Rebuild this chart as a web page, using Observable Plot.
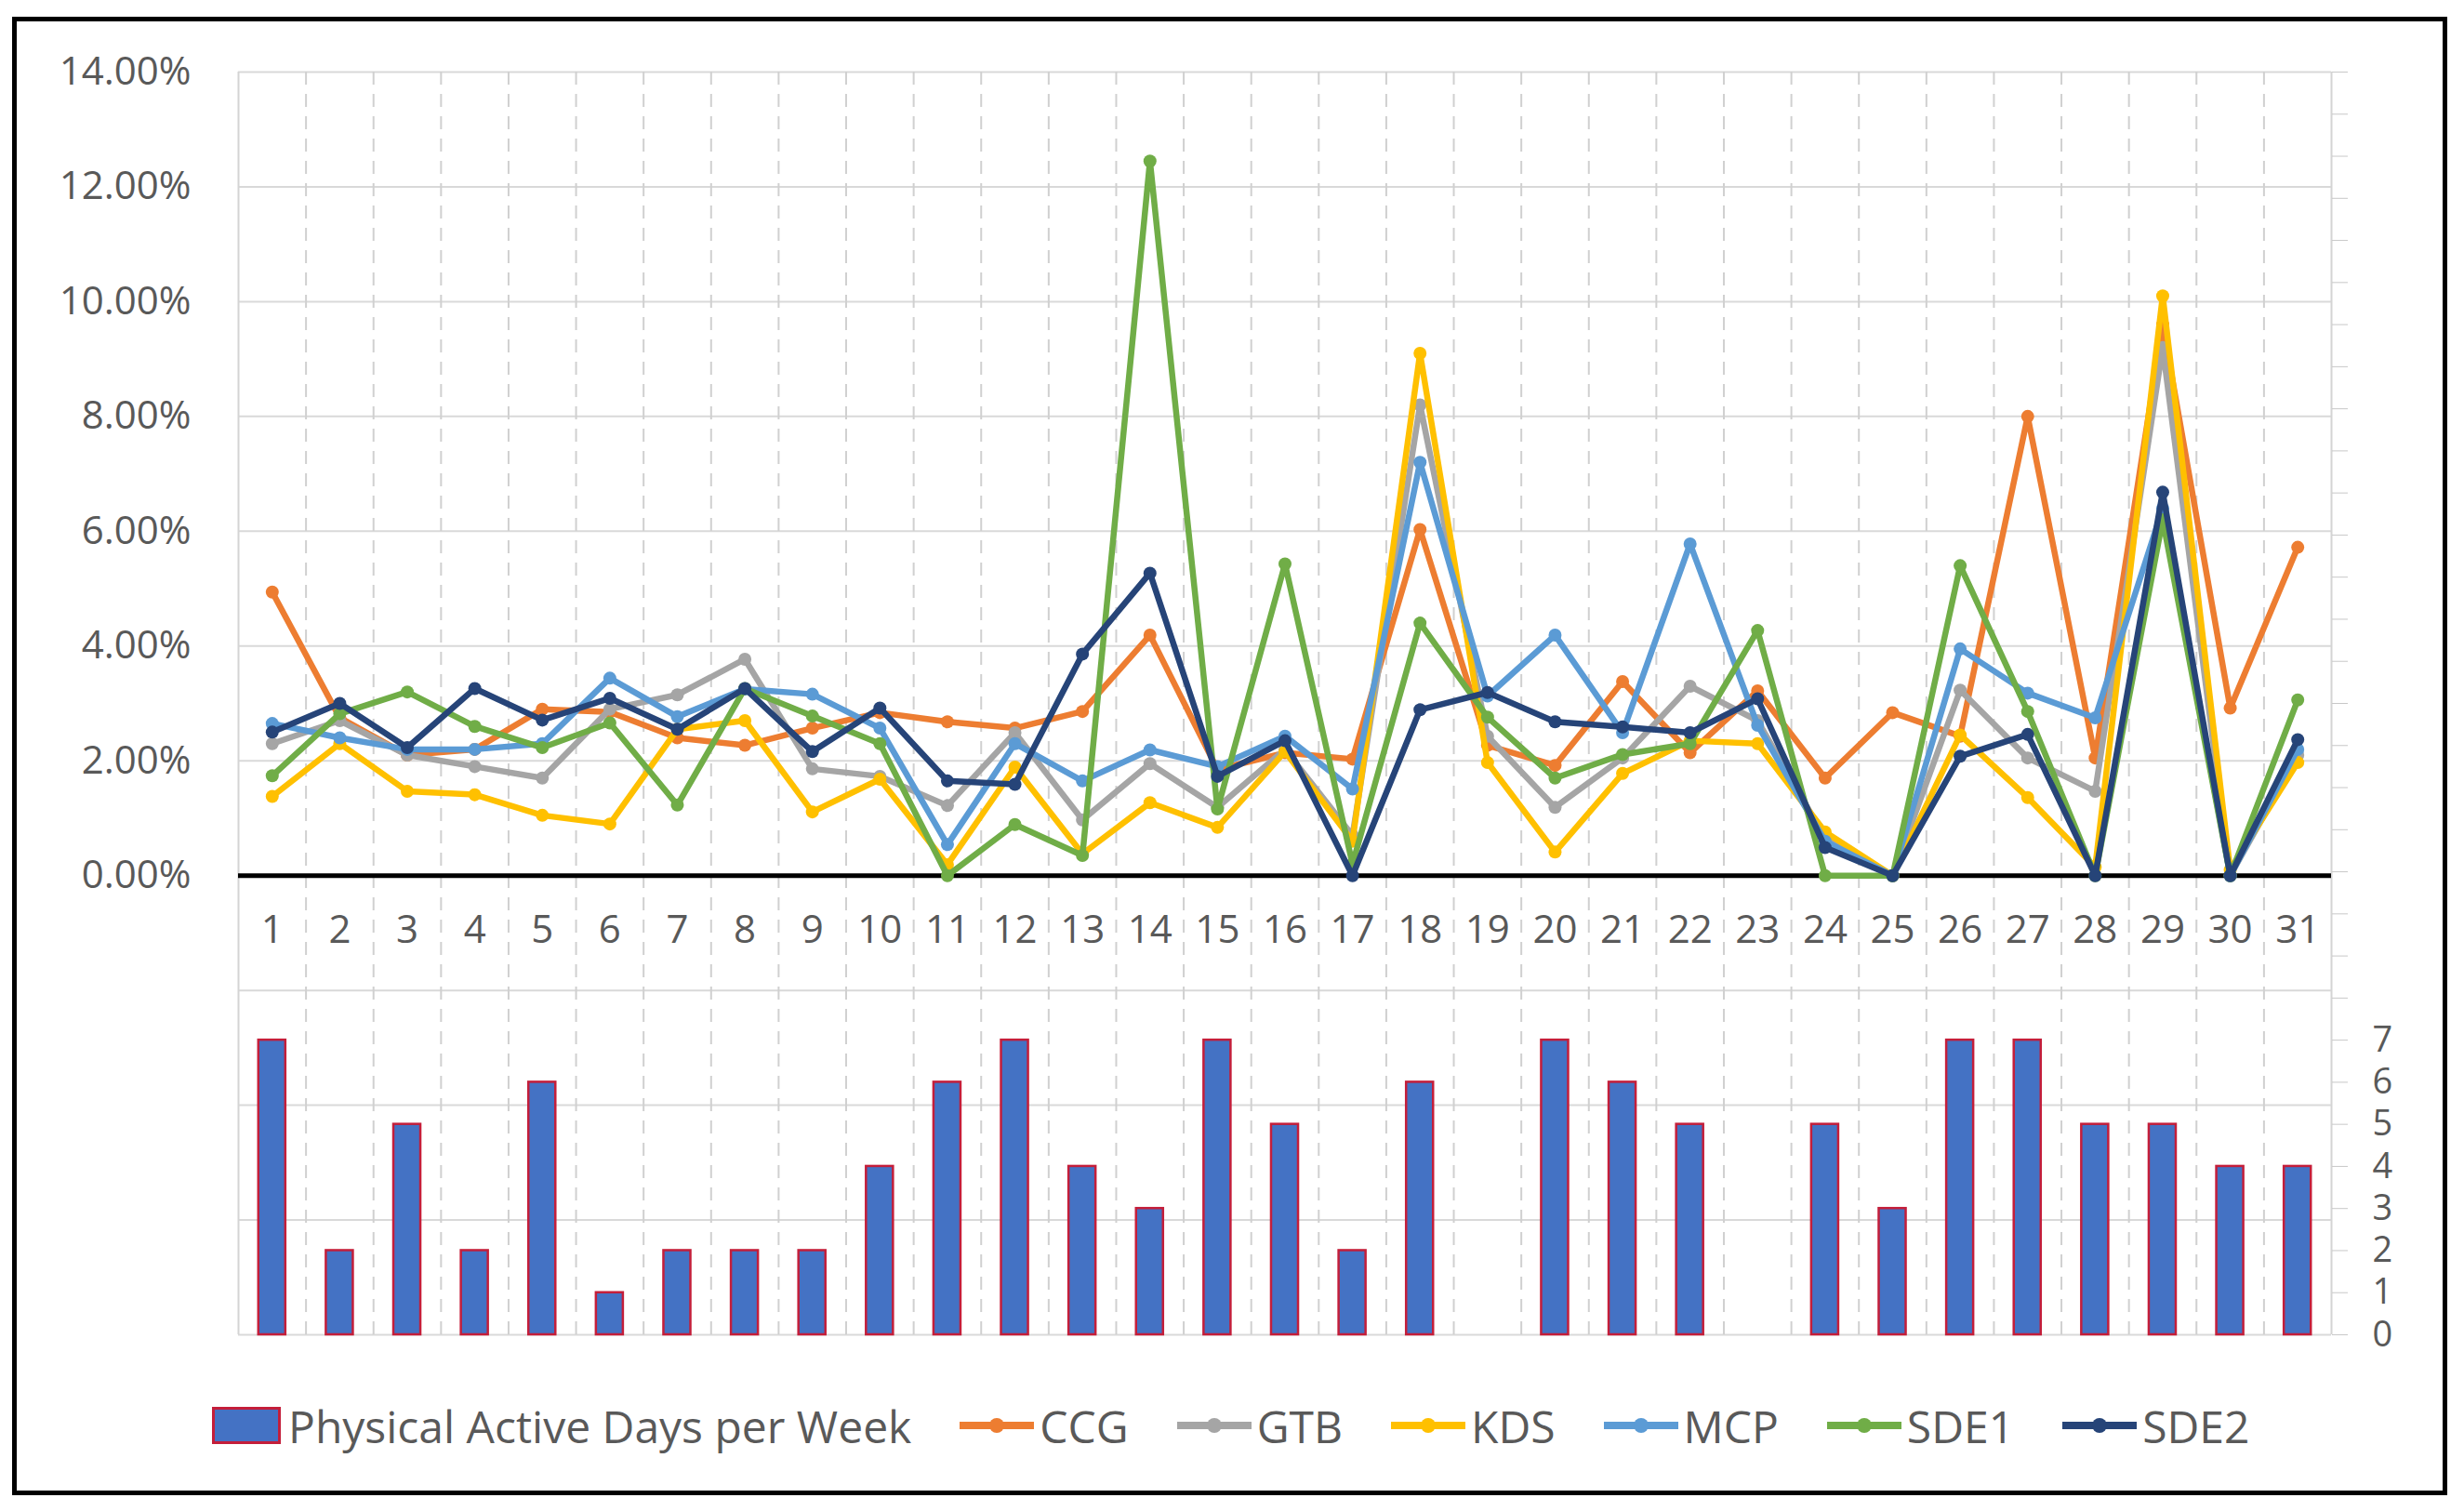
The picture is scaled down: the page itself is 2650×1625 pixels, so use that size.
<!DOCTYPE html>
<html>
<head>
<meta charset="utf-8">
<script src="https://cdn.jsdelivr.net/npm/d3@7"></script>
<script src="https://cdn.jsdelivr.net/npm/@observablehq/plot@0.6"></script>
<style>
  html, body { margin: 0; padding: 0; background: #fff; }
  #page { position: relative; width: 2650px; height: 1625px; overflow: hidden; font-family: "Open Sans", sans-serif; }
  #chart { position: absolute; left: 0; top: 0; }
  #frame { position: absolute; left: 13px; top: 18px; width: 2619px; height: 1590px; border: 5px solid #000; box-sizing: border-box; pointer-events: none; }
  #legend { position: absolute; left: 228px; top: 1503px; height: 60px; display: flex; align-items: center; font-size: 48px; color: #595959; white-space: nowrap; }
  #legend .item { display: flex; align-items: center; margin-left: 52px; }
  #legend .item:first-child { margin-left: 0; }
  #legend .box { width: 68px; height: 34px; background: #4472C4; border: 3px solid #C41E3A; margin-right: 8px; }
  #legend svg { margin-right: 6px; }
</style>
</head>
<body>
<div id="page">
  <div id="chart"></div>
  <div id="legend"></div>
  <div id="frame"></div>
</div>
<script>
// ---- data ----
const days = d3.range(1, 32);
const activeDays = [7, 2, 5, 2, 6, 1, 2, 2, 2, 4, 6, 7, 4, 3, 7, 5, 2, 6, 0, 7, 6, 5, 0, 5, 3, 7, 7, 5, 5, 4, 4];
const seriesNames = ["CCG", "GTB", "KDS", "MCP", "SDE1", "SDE2"];
const CCG  = [4.94, 2.75, 2.1, 2.2, 2.9, 2.85, 2.4, 2.27, 2.57, 2.84, 2.68, 2.57, 2.86, 4.19, 1.85, 2.14, 2.03, 6.03, 2.27, 1.92, 3.38, 2.14, 3.22, 1.7, 2.84, 2.43, 8.0, 2.05, 9.6, 2.92, 5.72];
const GTB  = [2.3, 2.7, 2.1, 1.9, 1.7, 2.9, 3.15, 3.77, 1.86, 1.73, 1.22, 2.49, 0.97, 1.95, 1.19, 2.2, 0.7, 8.2, 2.43, 1.19, 2.05, 3.3, 2.7, 0.65, 0, 3.23, 2.05, 1.47, 9.2, 0, 2.1];
const KDS  = [1.38, 2.3, 1.47, 1.41, 1.05, 0.9, 2.55, 2.7, 1.11, 1.68, 0.19, 1.89, 0.38, 1.27, 0.84, 2.16, 0.6, 9.1, 1.97, 0.41, 1.78, 2.35, 2.3, 0.76, 0, 2.45, 1.36, 0.15, 10.1, 0.1, 1.97];
const MCP  = [2.65, 2.4, 2.2, 2.2, 2.3, 3.44, 2.77, 3.25, 3.16, 2.57, 0.54, 2.3, 1.65, 2.19, 1.9, 2.43, 1.51, 7.2, 3.13, 4.19, 2.49, 5.78, 2.62, 0.6, 0, 3.95, 3.18, 2.75, 6.4, 0, 2.2];
const SDE1 = [1.74, 2.82, 3.2, 2.6, 2.23, 2.66, 1.23, 3.26, 2.78, 2.3, 0, 0.89, 0.35, 12.45, 1.16, 5.43, 0.2, 4.4, 2.76, 1.7, 2.11, 2.3, 4.27, 0, 0, 5.4, 2.86, 0, 6.2, 0, 3.06];
const SDE2 = [2.5, 3.0, 2.23, 3.26, 2.71, 3.09, 2.55, 3.26, 2.16, 2.92, 1.65, 1.59, 3.86, 5.27, 1.73, 2.35, 0, 2.89, 3.19, 2.68, 2.59, 2.49, 3.08, 0.49, 0, 2.08, 2.46, 0, 6.68, 0, 2.37];
const seriesValues = [CCG, GTB, KDS, MCP, SDE1, SDE2];
const pctTicks = [0, 2, 4, 6, 8, 10, 12, 14];
const dayTicks = d3.range(0, 31);      // secondary axis tick marks (0..30)
const dayLabels = d3.range(0, 8);      // secondary axis labels (0..7)
const barLegendLabel = "Physical Active Days per Week";

// ---- styles ----
const seriesColors = ["#ED7D31", "#A5A5A5", "#FFC000", "#5B9BD5", "#70AD47", "#264478"];
const BAR_HALF = 0.2;
const X_LABEL_Y = -0.95;

// secondary axis (days) mapped onto the primary percent scale
const sec = d3.scaleLinear([0, 30], [-8, 14]);

const rows = seriesNames.flatMap((s, i) => seriesValues[i].map((v, j) => ({series: s, day: days[j], value: v})));
const bars = days.map((d, i) => ({day: d, n: activeDays[i]})).filter(d => d.n > 0);

const chart = Plot.plot({
  width: 2650,
  height: 1480,
  marginLeft: 256,
  marginRight: 143,
  marginTop: 77,
  marginBottom: 45,
  style: {fontFamily: '"Open Sans", sans-serif', fontSize: "42px", color: "#595959", background: "transparent", overflow: "visible"},
  x: {domain: [0.5, 31.5], axis: null},
  y: {domain: [-8, 14]},
  color: {domain: seriesNames, range: seriesColors},
  marks: [
    Plot.ruleY(d3.range(-8, 15, 2), {stroke: "#d9d9d9", strokeWidth: 2}),
    Plot.ruleX(days.slice(0, -1).map(d => d + 0.5), {y1: -8, y2: 14, stroke: "#d0d0d0", strokeWidth: 2, strokeDasharray: "14,10"}),
    Plot.ruleX([0.5, 31.5], {y1: -8, y2: 14, stroke: "#d4d4d4", strokeWidth: 2}),
    Plot.rectY(bars, {x1: d => d.day - BAR_HALF, x2: d => d.day + BAR_HALF, y1: sec(0), y2: d => sec(d.n), fill: "#4472C4", stroke: "#C41E3A", strokeWidth: 2.5}),
    Plot.axisY(pctTicks, {anchor: "left", tickSize: 0, tickPadding: 51, label: null, fill: "#595959", tickFormat: v => v.toFixed(2) + "%"}),
    Plot.axisY(dayTicks.map(sec), {anchor: "right", tickSize: 17, label: null, stroke: "#c8c8c8", tickFormat: () => null}),
    Plot.axisY(dayLabels.map(sec), {anchor: "right", tickSize: 0, tickPadding: 44, label: null, fill: "#595959", fontSize: 38,
      tickFormat: v => String(Math.round(sec.invert(v)))}),
    Plot.text(days, {x: d => d, y: X_LABEL_Y, text: d => String(d), fill: "#595959"}),
    Plot.ruleY([0], {stroke: "#000", strokeWidth: 5}),
    ...seriesNames.flatMap(s => {
      const data = rows.filter(r => r.series === s);
      return [
        Plot.line(data, {x: "day", y: "value", stroke: "series", strokeWidth: 6.5, strokeLinejoin: "round"}),
        Plot.dot(data, {x: "day", y: "value", fill: "series", r: 7})
      ];
    })
  ]
});
document.getElementById("chart").appendChild(chart);

// ---- legend ----
const legend = document.getElementById("legend");
{
  const item = document.createElement("div");
  item.className = "item";
  const box = document.createElement("span");
  box.className = "box";
  const label = document.createElement("span");
  label.textContent = barLegendLabel;
  item.append(box, label);
  legend.append(item);
}
seriesNames.forEach((s, i) => {
  const item = document.createElement("div");
  item.className = "item";
  const ns = "http://www.w3.org/2000/svg";
  const svg = document.createElementNS(ns, "svg");
  svg.setAttribute("width", 80);
  svg.setAttribute("height", 24);
  const line = document.createElementNS(ns, "line");
  line.setAttribute("x1", 0); line.setAttribute("x2", 80);
  line.setAttribute("y1", 12); line.setAttribute("y2", 12);
  line.setAttribute("stroke", seriesColors[i]);
  line.setAttribute("stroke-width", 8);
  const dot = document.createElementNS(ns, "circle");
  dot.setAttribute("cx", 40); dot.setAttribute("cy", 12); dot.setAttribute("r", 8);
  dot.setAttribute("fill", seriesColors[i]);
  svg.append(line, dot);
  const label = document.createElement("span");
  label.textContent = s;
  item.append(svg, label);
  legend.append(item);
});
</script>
</body>
</html>
